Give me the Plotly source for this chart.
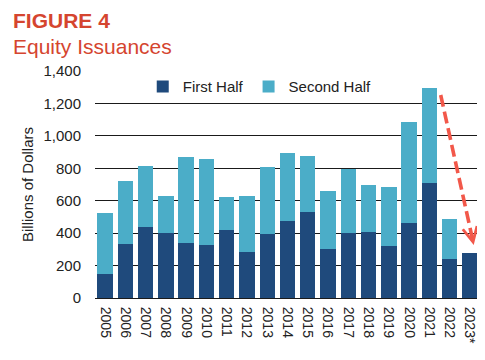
import plotly.graph_objects as go

years = ["2005", "2006", "2007", "2008", "2009", "2010", "2011", "2012", "2013", "2014",
         "2015", "2016", "2017", "2018", "2019", "2020", "2021", "2022", "2023*"]
first_half = [146, 333, 437, 400, 339, 324, 421, 285, 392, 478,
              532, 302, 402, 409, 318, 460, 710, 242, 275]
totals = [527, 719, 815, 630, 871, 860, 620, 630, 805, 897,
          875, 661, 795, 698, 686, 1086, 1298, 487, 275]
second_half = [t - f for t, f in zip(totals, first_half)]

yticks = [0, 200, 400, 600, 800, 1000, 1200, 1400]
ytick_text = ["0", "200", "400", "600", "800", "1,000", "1,200", "1,400"]

# trend arrow (data coordinates: category index, billions)
arrow_start = (16.56, 1252)
arrow_end = (18.19, 327)

DARK = "#1F4A7C"
LIGHT = "#4BADC8"
RED_T = "#D5452F"
ARROW = "#F2584A"
FONT = "Liberation Sans, Arial, sans-serif"

# page body has an 8px margin, so the figure is drawn 8px in from the corner
W, H = 477, 352
ML, MR, MT, MB = 87, 5, 63, 62
W_plot = W - ML - MR
H_plot = H - MT - MB


def px(xp):
    return (xp - ML) / W_plot


def py(yp):
    return (H - MB - yp) / H_plot


xidx = list(range(len(years)))

fig = go.Figure()
fig.add_trace(go.Bar(x=xidx, y=first_half, name="First Half", marker_color=DARK,
                     marker_line_width=0))
fig.add_trace(go.Bar(x=xidx, y=second_half, name="Second Half", marker_color=LIGHT,
                     marker_line_width=0))

# dashed arrow shaft
fig.add_shape(type="line", xref="x", yref="y",
              x0=arrow_start[0], y0=arrow_start[1],
              x1=arrow_end[0] - 0.03, y1=arrow_end[1] + 20,
              line=dict(color=ARROW, width=3.6, dash="12px,5px"), layer="above")
# arrow head
dx = arrow_end[0] - arrow_start[0]
dy = arrow_end[1] - arrow_start[1]
fig.add_annotation(x=arrow_end[0], y=arrow_end[1], xref="x", yref="y",
                   ax=arrow_end[0] - dx * 0.08, ay=arrow_end[1] - dy * 0.08,
                   axref="x", ayref="y", showarrow=True, arrowhead=5,
                   arrowsize=1.1, arrowwidth=2.6, arrowcolor=ARROW, text="")

fig.add_annotation(text="<b>FIGURE 4</b>", xref="paper", yref="paper",
                   x=px(3), y=py(12), showarrow=False, xanchor="left", yanchor="middle",
                   font=dict(family=FONT, size=21, color=RED_T))
fig.add_annotation(text="Equity Issuances", xref="paper", yref="paper",
                   x=px(3), y=py(38), showarrow=False, xanchor="left", yanchor="middle",
                   font=dict(family=FONT, size=21, color=RED_T))

# footnotes (cut off at the bottom of the frame, as in the source image)
fig.add_annotation(text="Sources: Dealogic, SIFMA estimates", xref="paper", yref="paper",
                   x=px(2), y=py(347), showarrow=False,
                   xanchor="left", yanchor="top",
                   font=dict(family=FONT, size=13, color="#444444"))
fig.add_annotation(text="*Through June", xref="paper", yref="paper",
                   x=px(376), y=py(347), showarrow=False,
                   xanchor="left", yanchor="top",
                   font=dict(family=FONT, size=13, color="#444444"))

fig.update_layout(
    width=W, height=H,
    margin=dict(l=ML, r=MR, t=MT, b=MB),
    barmode="stack", bargap=0.24,
    paper_bgcolor="white", plot_bgcolor="white",
    font=dict(family=FONT, size=15, color="#222222"),
    showlegend=True,
    legend=dict(orientation="h", x=0.124, y=1.003, xanchor="left", yanchor="top",
                font=dict(family=FONT, size=15, color="#222222"),
                bgcolor="rgba(0,0,0,0)", traceorder="normal", itemwidth=30),
)
fig.update_xaxes(
    tickmode="array", tickvals=xidx, ticktext=years, tickangle=90,
    range=[-0.5, len(years) - 0.5], showgrid=False, showline=False, zeroline=False,
    ticks="outside", ticklen=5, tickcolor="rgba(0,0,0,0)",
    tickfont=dict(family=FONT, size=14, color="#222222"),
)
fig.update_yaxes(
    range=[0, 1400], tickmode="array", tickvals=yticks, ticktext=ytick_text,
    showgrid=True, gridcolor="#1a1a1a", gridwidth=1.4,
    zeroline=True, zerolinecolor="#1a1a1a", zerolinewidth=1.4,
    ticks="outside", ticklen=10, tickcolor="rgba(0,0,0,0)",
    tickfont=dict(family=FONT, size=15, color="#222222"),
    title=dict(text="Billions of Dollars", font=dict(family=FONT, size=15, color="#222222"),
               standoff=6),
)

fig.write_html("out.html")
